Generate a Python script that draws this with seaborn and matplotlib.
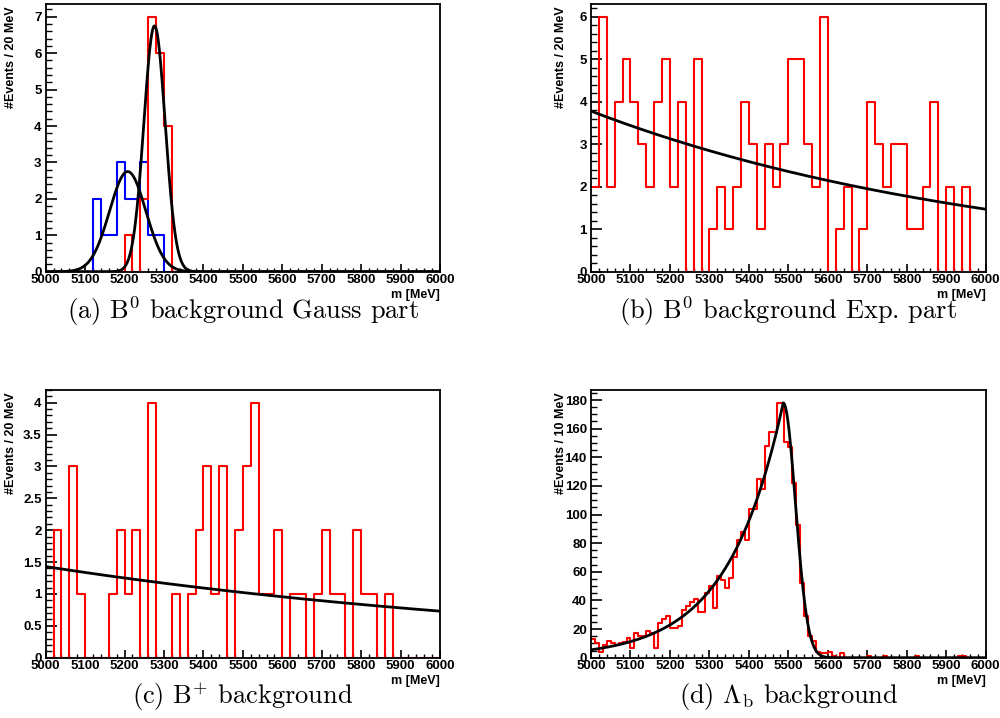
import numpy as np
import pandas as pd
import matplotlib
matplotlib.use("Agg")
import matplotlib.pyplot as plt
import seaborn as sns
from matplotlib.ticker import MultipleLocator, FuncFormatter

# ---------------- data ----------------
# (a) B0 background Gauss part (20 MeV bins)
a_red = [0, 0, 0, 0, 0, 0, 0, 0, 0, 0,
         1, 0, 2, 7, 6, 4, 0, 0, 0, 0,
         0, 0, 0, 0, 0, 0, 0, 0, 0, 0,
         0, 0, 0, 0, 0, 0, 0, 0, 0, 0,
         0, 0, 0, 0, 0, 0, 0, 0, 0, 0]
a_blue = [0, 0, 0, 0, 0, 0, 2, 1, 1, 3,
          2, 2, 3, 1, 1, 0, 0, 0, 0, 0,
          0, 0, 0, 0, 0, 0, 0, 0, 0, 0,
          0, 0, 0, 0, 0, 0, 0, 0, 0, 0,
          0, 0, 0, 0, 0, 0, 0, 0, 0, 0]
a_fit_red = dict(amp=6.75, mean=5276.0, sigma=27.0)
a_fit_blue = dict(amp=2.75, mean=5208.0, sigma=46.0)

# (b) B0 background Exp. part (20 MeV bins)
b_counts = [2, 6, 2, 4, 5, 4, 3, 2, 4, 5,
            2, 4, 0, 5, 0, 1, 2, 1, 2, 4,
            3, 1, 3, 2, 3, 5, 5, 3, 2, 6,
            0, 1, 2, 0, 1, 4, 3, 2, 3, 3,
            1, 1, 2, 4, 0, 2, 0, 2, 0, 0]
b_fit = dict(amp=3.78, slope=0.000944)

# (c) B+ background (20 MeV bins)
c_counts = [0, 2, 0, 3, 1, 0, 0, 0, 1, 2,
            1, 2, 0, 4, 0, 0, 1, 0, 1, 2,
            3, 1, 3, 0, 2, 3, 4, 1, 1, 2,
            0, 1, 1, 0, 1, 2, 1, 1, 0, 2,
            1, 1, 0, 1, 0, 0, 0, 0, 0, 0]
c_fit = dict(amp=1.43, slope=0.000672)

# (d) Lambda_b background (10 MeV bins)
d_counts = [13, 10, 4, 9, 12, 10, 9, 10, 11, 14,
            7, 17, 15, 15, 19, 17, 7, 24, 27, 29,
            21, 21, 22, 33, 36, 39, 41, 32, 32, 45,
            50, 35, 57, 54, 49, 56, 70, 82, 88, 82,
            104, 104, 125, 118, 148, 158, 158, 178, 178, 151,
            147, 122, 93, 52, 29, 15, 12, 4, 3, 3,
            4, 1, 0, 3, 0, 0, 0, 0, 0, 0,
            1, 0, 0, 0, 1, 0, 0, 0, 0, 0,
            0, 0, 1, 0, 0, 0, 0, 0, 0, 0,
            0, 0, 0, 1, 1, 0, 0, 0, 0, 0]
d_fit = dict(amp=178.0, peak=5487.0, tau=140.0, sigma=31.0)

captions = [r"(a) $\mathrm{B}^0$ background Gauss part",
            r"(b) $\mathrm{B}^0$ background Exp. part",
            r"(c) $\mathrm{B}^{+}$ background",
            r"(d) $\Lambda_\mathrm{b}$ background"]
ylabels = ["#Events / 20 MeV", "#Events / 20 MeV", "#Events / 20 MeV", "#Events / 10 MeV"]

M_LO, M_HI = 5000, 6000

# ---------------- style ----------------
sns.set_theme(style="white")
plt.rcParams.update({
    "font.family": ["Liberation Sans", "DejaVu Sans"],
    "font.weight": "bold",
    "mathtext.fontset": "cm",
    "axes.linewidth": 1.3,
    "axes.edgecolor": "black",
    "axes.labelcolor": "black",
    "text.color": "black",
    "xtick.color": "black",
    "ytick.color": "black",
    "xtick.labelcolor": "black",
    "ytick.labelcolor": "black",
})

fig = plt.figure(figsize=(10, 7.18), dpi=100)
W, H = 1000.0, 718.0
def add_ax(left, top, right, bottom):
    return fig.add_axes([left / W, 1 - bottom / H, (right - left) / W, (bottom - top) / H])

ax_a = add_ax(45.7, 4, 440, 271.7)
ax_b = add_ax(591, 4, 985.7, 271.7)
ax_c = add_ax(45.7, 390, 440, 657.7)
ax_d = add_ax(591, 390, 985.7, 657.7)

xs = np.linspace(M_LO, M_HI, 1001)

def hist(ax, counts, width, color):
    n = len(counts)
    centers = M_LO + width * (np.arange(n) + 0.5)
    df = pd.DataFrame({"m": centers, "n": np.asarray(counts, dtype=float)})
    sns.histplot(data=df, x="m", weights="n", binwidth=width, binrange=(M_LO, M_HI),
                 element="step", fill=False, color=color, linewidth=1.5, ax=ax)

def curve(ax, y):
    sns.lineplot(x=xs, y=y, color="black", linewidth=2.0, ax=ax)

def gauss(p):
    return p["amp"] * np.exp(-0.5 * ((xs - p["mean"]) / p["sigma"]) ** 2)

def expo(p):
    return p["amp"] * np.exp(-p["slope"] * (xs - M_LO))

# (a)
hist(ax_a, a_blue, 20, "#0000ff")
hist(ax_a, a_red, 20, "#ff0000")
curve(ax_a, gauss(a_fit_blue))
curve(ax_a, gauss(a_fit_red))
# (b)
hist(ax_b, b_counts, 20, "#ff0000")
curve(ax_b, expo(b_fit))
# (c)
hist(ax_c, c_counts, 20, "#ff0000")
curve(ax_c, expo(c_fit))
# (d)
hist(ax_d, d_counts, 10, "#ff0000")
d_curve = np.where(xs <= d_fit["peak"],
                   d_fit["amp"] * np.exp((xs - d_fit["peak"]) / d_fit["tau"]),
                   d_fit["amp"] * np.exp(-0.5 * ((xs - d_fit["peak"]) / d_fit["sigma"]) ** 2))
curve(ax_d, d_curve)

def style(ax, ymax, ymaj, ymin, ylabel, ylab_x):
    ax.set_xlim(M_LO, M_HI)
    ax.set_ylim(0, ymax)
    ax.xaxis.set_major_locator(MultipleLocator(100))
    ax.xaxis.set_minor_locator(MultipleLocator(20))
    ax.yaxis.set_major_locator(MultipleLocator(ymaj))
    ax.yaxis.set_minor_locator(MultipleLocator(ymin))
    ax.tick_params(axis="x", which="major", direction="in", length=6, width=1.2, pad=2,
                   labelsize=9.5, top=False, bottom=True, labelcolor="black")
    ax.tick_params(axis="x", which="minor", direction="in", length=3, width=1.0, top=False, bottom=True)
    ax.tick_params(axis="y", which="major", direction="in", length=8, width=1.2, pad=3,
                   labelsize=9.5, right=False, left=True, labelcolor="black")
    ax.tick_params(axis="y", which="minor", direction="in", length=4, width=1.0, right=False, left=True)
    ax.yaxis.set_major_formatter(FuncFormatter(lambda v, p: f"{v:g}"))
    ax.set_xlabel("m [MeV]", loc="right", fontsize=9, fontweight="bold", color="black")
    ax.xaxis.set_label_coords(1.0, -0.064)
    ax.set_ylabel(ylabel, loc="top", fontsize=9, fontweight="bold", color="black")
    ax.yaxis.set_label_coords(ylab_x, 0.99)
    for s in ax.spines.values():
        s.set_visible(True)
        s.set_color("black")
        s.set_linewidth(1.3)
    ax.grid(False)

style(ax_a, 7.35, 1, 0.2, ylabels[0], -0.072)
style(ax_b, 6.3, 1, 0.2, ylabels[1], -0.062)
style(ax_c, 4.2, 0.5, 0.1, ylabels[2], -0.072)
style(ax_d, 187, 20, 5, ylabels[3], -0.062)

cap_y = [1 - 311 / H, 1 - 311 / H, 1 - 697 / H, 1 - 697 / H]
cap_x = [(45.7 + 440) / 2 / W, (591 + 985.7) / 2 / W, (45.7 + 440) / 2 / W, (591 + 985.7) / 2 / W]
for t, x, y in zip(captions, cap_x, cap_y):
    fig.text(x, y, t, ha="center", va="center", fontsize=19, family="cmr10",
             fontweight="normal", color="black")

fig.savefig("out.png", dpi=100)
